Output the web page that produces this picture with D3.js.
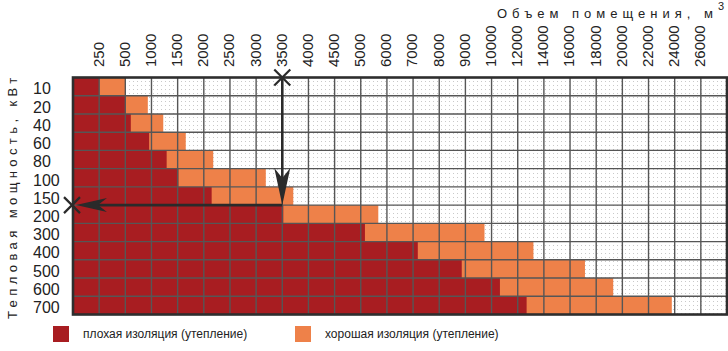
<!DOCTYPE html>
<html>
<head>
<meta charset="utf-8">
<script src="https://cdn.jsdelivr.net/npm/d3@7"></script>
<style>
  body { margin: 0; background: #fff; }
  text { font-family: "Liberation Sans", Arial, sans-serif; fill: #222; }
  .tick-narrow { font-family: "Liberation Sans Narrow", "Liberation Sans", Arial, sans-serif; }
</style>
</head>
<body>
<div id="chart"></div>
<script>
// room volume, m3 - labels sit on the grid lines
var volumes = [250, 500, 1000, 1500, 2000, 2500, 3000, 3500, 4000, 4500, 5000, 6000,
  7000, 8000, 9000, 10000, 12000, 14000, 16000, 18000, 20000, 22000, 24000, 26000];
// last (unlabelled) column ends here
var volumeMax = 28000;

// heat output, kW - one row each
var powers = [10, 20, 40, 60, 80, 100, 150, 200, 300, 400, 500, 600, 700];

// volume reached by each row
var poorInsulation = [250, 500, 605, 955, 1290, 1515, 2150, 3520, 5160, 7180, 8860, 10640, 12680];
var goodInsulation = [500, 930, 1225, 1655, 2180, 3185, 3710, 5670, 9730, 13200, 17140, 19300, 23780];

// worked example: 3500 m3 -> 150 kW
var exampleVolume = 3500;
var examplePower = 150;

var legendItems = ["плохая изоляция (утепление)", "хорошая изоляция (утепление)"];

var width = 728, height = 351;
var margin = {top: 77.5, right: 1, bottom: 36.5, left: 73};
var colors = {poor: "#a81d21", good: "#ee8149", grid: "#565656", frame: "#2e2e2e", arrow: "#2a2a2a"};

var svg = d3.select("#chart")
  .append("svg")
  .attr("width", width)
  .attr("height", height);

var edges = [0].concat(volumes, [volumeMax]);
var colW = (width - margin.left - margin.right) / (edges.length - 1);

// piecewise scale, every step of the list gets one column
var x = d3.scaleLinear()
  .domain(edges)
  .range(edges.map(function(d, i) { return margin.left + i * colW; }));

var y = d3.scaleBand()
  .domain(powers)
  .range([margin.top, height - margin.bottom])
  .padding(0);

var x0 = x(0), x1 = x(volumeMax), y0 = margin.top, y1 = height - margin.bottom;

// dotted paper texture
var defs = svg.append("defs");
defs.append("pattern")
  .attr("id", "dots")
  .attr("width", 4).attr("height", 4)
  .attr("patternUnits", "userSpaceOnUse")
  .append("rect")
  .attr("x", 1).attr("y", 1).attr("width", 1).attr("height", 1)
  .attr("fill", "#c9c9c9");

svg.append("rect")
  .attr("x", x0).attr("y", y0)
  .attr("width", x1 - x0).attr("height", y1 - y0)
  .attr("fill", "url(#dots)");

// bars: good insulation behind, poor insulation in front
svg.append("g").selectAll("rect")
  .data(powers)
  .join("rect")
  .attr("x", x(0))
  .attr("y", function(d) { return y(d); })
  .attr("width", function(d, i) { return x(goodInsulation[i]) - x(0); })
  .attr("height", y.bandwidth())
  .attr("fill", colors.good);

svg.append("g").selectAll("rect")
  .data(powers)
  .join("rect")
  .attr("x", x(0))
  .attr("y", function(d) { return y(d); })
  .attr("width", function(d, i) { return x(poorInsulation[i]) - x(0); })
  .attr("height", y.bandwidth())
  .attr("fill", colors.poor);

// grid
var grid = svg.append("g").attr("stroke", colors.grid).attr("stroke-width", 1.4);
grid.selectAll("line.v")
  .data(volumes)
  .join("line")
  .attr("class", "v")
  .attr("x1", function(d) { return x(d); })
  .attr("x2", function(d) { return x(d); })
  .attr("y1", y0).attr("y2", y1);
grid.selectAll("line.h")
  .data(powers.slice(1))
  .join("line")
  .attr("class", "h")
  .attr("x1", x0).attr("x2", x1)
  .attr("y1", function(d) { return y(d); })
  .attr("y2", function(d) { return y(d); });

svg.append("rect")
  .attr("x", x0).attr("y", y0)
  .attr("width", x1 - x0).attr("height", y1 - y0)
  .attr("fill", "none")
  .attr("stroke", colors.frame)
  .attr("stroke-width", 2.6);

// x labels, rotated
svg.append("g").selectAll("text")
  .data(volumes)
  .join("text")
  .attr("class", "tick-narrow")
  .attr("transform", function(d) { return "translate(" + (x(d) - 1) + ",67)rotate(-90)"; })
  .attr("dy", "0.36em")
  .attr("font-size", 15)
  .text(function(d) { return d; });

// y labels
svg.append("g").selectAll("text")
  .data(powers)
  .join("text")
  .attr("class", "tick-narrow")
  .attr("x", 33)
  .attr("y", function(d) { return y(d) + y.bandwidth() / 2 + 2; })
  .attr("dy", "0.36em")
  .attr("font-size", 16)
  .text(function(d) { return d; });

// axis titles
var xt = svg.append("text")
  .attr("x", 497)
  .attr("y", 18)
  .attr("font-size", 13)
  .attr("letter-spacing", 5)
  .text("Объем помещения, м");
xt.append("tspan")
  .attr("dy", -8)
  .attr("font-size", 11)
  .attr("letter-spacing", 0)
  .text("3");

svg.append("text")
  .attr("transform", "translate(17,319)rotate(-90)")
  .attr("font-size", 13)
  .attr("letter-spacing", 4.4)
  .text("Тепловая мощность, кВт");

// worked example arrows
var ax = x(exampleVolume);
var ay = y(examplePower) + y.bandwidth();

svg.append("line")
  .attr("x1", ax).attr("x2", ax)
  .attr("y1", y0).attr("y2", ay - 20)
  .attr("stroke", colors.arrow).attr("stroke-width", 2.6);
svg.append("path")
  .attr("d", "M" + ax + "," + ay + "L" + (ax - 8) + "," + (ay - 37) + "L" + ax + "," + (ay - 27) +
    "L" + (ax + 8) + "," + (ay - 37) + "Z")
  .attr("fill", colors.arrow);

svg.append("line")
  .attr("x1", ax).attr("x2", x0 + 22)
  .attr("y1", ay).attr("y2", ay)
  .attr("stroke", colors.arrow).attr("stroke-width", 2.6);
svg.append("path")
  .attr("d", "M" + (x0 + 3) + "," + ay + "L" + (x0 + 34) + "," + (ay - 7) + "L" + (x0 + 25) + "," + ay +
    "L" + (x0 + 34) + "," + (ay + 7) + "Z")
  .attr("fill", colors.arrow);

function cross(cx, cy, r) {
  svg.append("path")
    .attr("d", "M" + (cx - r) + "," + (cy - r) + "L" + (cx + r) + "," + (cy + r) +
      "M" + (cx - r) + "," + (cy + r) + "L" + (cx + r) + "," + (cy - r))
    .attr("stroke", colors.arrow)
    .attr("stroke-width", 2.2);
}
cross(ax, y0, 8);
cross(x0 - 1, ay, 8);

// legend
var legend = svg.append("g");
var legendX = [53, 295];
legend.selectAll("rect")
  .data(legendItems)
  .join("rect")
  .attr("x", function(d, i) { return legendX[i]; })
  .attr("y", 326)
  .attr("width", 16).attr("height", 16)
  .attr("fill", function(d, i) { return i === 0 ? colors.poor : colors.good; });
legend.selectAll("text")
  .data(legendItems)
  .join("text")
  .attr("x", function(d, i) { return legendX[i] + 30; })
  .attr("y", 338)
  .attr("font-size", 12)
  .text(function(d) { return d; });
</script>
</body>
</html>
